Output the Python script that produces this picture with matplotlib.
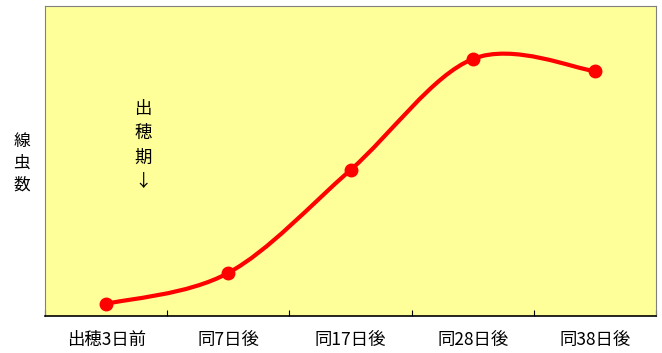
import matplotlib.pyplot as plt
from matplotlib.path import Path
from matplotlib.patches import PathPatch

plt.rcParams['font.family'] = ['Noto Sans CJK JP', 'DejaVu Sans']

# datos
categorias = ['出穂3日前', '同7日後', '同17日後', '同28日後', '同38日後']
senchu = [3.9, 13.9, 47.1, 82.9, 79.0]
etiqueta_y = '線虫数'
nota = '出穂期↓'

fig = plt.figure(figsize=(6.62, 3.53), dpi=100)
ax = fig.add_axes([45 / 662, 1 - 316 / 353, 611 / 662, 310 / 353])
ax.set_facecolor('#FFFF99')

xs = [i + 0.5 for i in range(len(senchu))]

# curva suavizada tipo Excel (Bezier cubica)
verts = [(xs[0], senchu[0])]
codes = [Path.MOVETO]
n = len(xs)
for i in range(n - 1):
    p0 = (xs[max(i - 1, 0)], senchu[max(i - 1, 0)])
    p1 = (xs[i], senchu[i])
    p2 = (xs[i + 1], senchu[i + 1])
    p3 = (xs[min(i + 2, n - 1)], senchu[min(i + 2, n - 1)])
    c1 = (p1[0] + (p2[0] - p0[0]) / 6, p1[1] + (p2[1] - p0[1]) / 6)
    c2 = (p2[0] - (p3[0] - p1[0]) / 6, p2[1] - (p3[1] - p1[1]) / 6)
    verts += [c1, c2, p2]
    codes += [Path.CURVE4] * 3
ax.add_patch(PathPatch(Path(verts, codes), facecolor='none', edgecolor='#FF0000', lw=3, zorder=2))
ax.plot(xs, senchu, 'o', color='#FF0000', markersize=9, zorder=3)

ax.set_xlim(0, 5)
ax.set_ylim(0, 100)
ax.set_xticks(range(6))
ax.set_xticklabels([])
ax.set_xticks(xs, minor=True)
ax.set_xticklabels(categorias, minor=True, fontsize=12.5)
ax.tick_params(axis='x', which='minor', length=0, pad=11)
ax.tick_params(axis='x', which='major', direction='in', length=4, color='black')
ax.set_yticks([])

for s in ['top', 'left', 'right']:
    ax.spines[s].set_color('#808080')
ax.spines['bottom'].set_color('black')
ax.spines['bottom'].set_linewidth(1.2)

# etiqueta vertical
fig.text(22 / 662, 1 - 163 / 353, '\n'.join(etiqueta_y), ha='center', va='center',
         fontsize=12, linespacing=1.35)
ax.text(0.8, 55, '\n'.join(nota), ha='center', va='center', fontsize=12.5, linespacing=1.45)

fig.savefig('out.png', dpi=100)
